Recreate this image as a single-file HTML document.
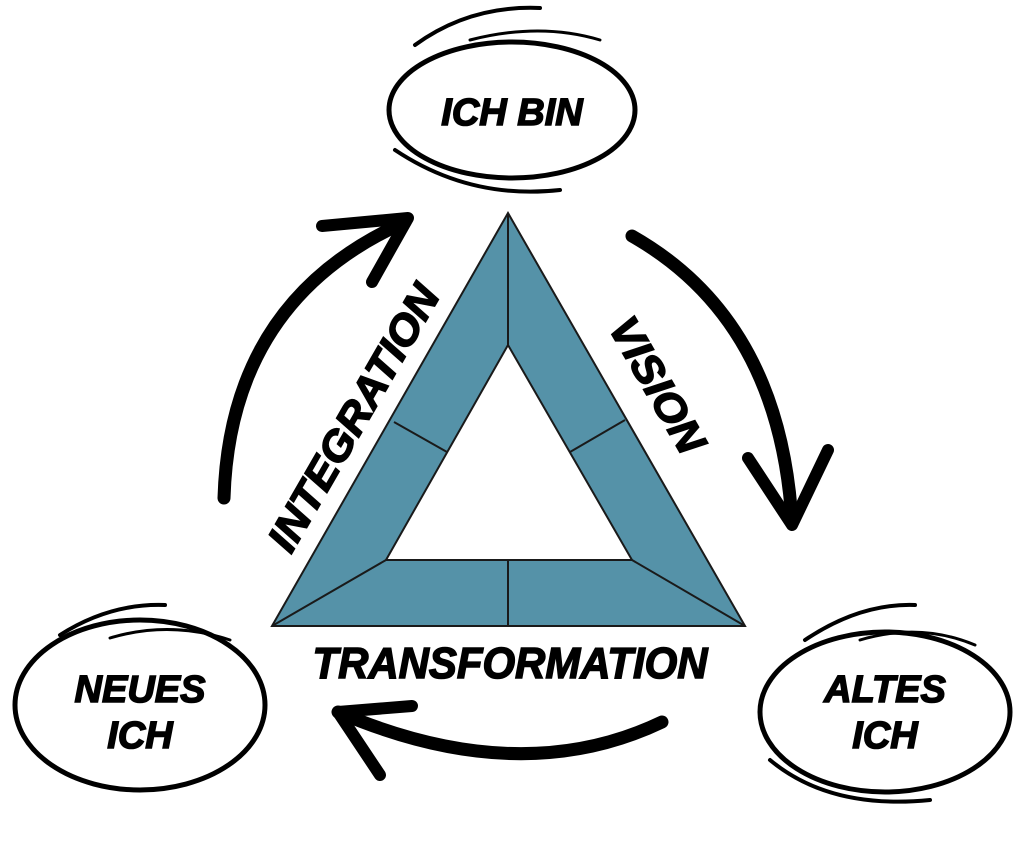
<!DOCTYPE html>
<html><head><meta charset="utf-8"><style>
html,body{margin:0;padding:0;background:#fff;}
svg{display:block}
text{font-family:"Liberation Sans",sans-serif;font-weight:bold;font-style:italic;fill:#000;stroke:#000;stroke-width:1.5;}
</style></head><body>
<svg width="1024" height="853" viewBox="0 0 1024 853" xmlns="http://www.w3.org/2000/svg">
<path d="M508,213 L745,626 L272,626 Z M508,345 L386,560 L632,560 Z" fill="#5592a8" fill-rule="evenodd" stroke="#1a1a1a" stroke-width="2"/>
<g stroke="#1a1a1a" stroke-width="2">
<line x1="508" y1="213" x2="508" y2="345"/>
<line x1="508" y1="560" x2="508" y2="626"/>
<line x1="386" y1="560" x2="272" y2="626"/>
<line x1="632" y1="560" x2="745" y2="626"/>
<line x1="394" y1="422" x2="447" y2="452"/>
<line x1="570" y1="452" x2="625" y2="420"/>
</g>
<g fill="none" stroke="#000" stroke-linecap="round">
<ellipse cx="512" cy="110" rx="123" ry="68" stroke-width="5"/>
<path d="M415,45 Q470,5 540,8" stroke-width="4"/>
<path d="M470,40 Q540,22 600,40" stroke-width="3"/>
<path d="M395,150 Q470,200 560,190" stroke-width="4"/>
<ellipse cx="140" cy="705" rx="125" ry="85" stroke-width="5"/>
<path d="M60,635 Q110,603 165,605" stroke-width="4"/>
<path d="M110,638 Q170,620 230,640" stroke-width="3"/>
<ellipse cx="885" cy="712" rx="125" ry="80" stroke-width="5"/>
<path d="M805,640 Q860,603 915,605" stroke-width="4"/>
<path d="M860,640 Q920,622 975,645" stroke-width="3"/>
<path d="M770,760 Q830,810 930,800" stroke-width="4"/>
</g>
<g fill="none" stroke="#000" stroke-linecap="round" stroke-linejoin="round">
<path d="M224,498 Q230,300 405,222" stroke-width="13"/>
<path d="M322,226 L408,218 L372,282" stroke-width="12"/>
<path d="M632,236 Q780,320 792,522" stroke-width="13"/>
<path d="M748,458 L792,525 L828,450" stroke-width="12"/>
<path d="M662,722 Q520,790 338,712" stroke-width="13"/>
<path d="M412,706 L338,712 L380,775" stroke-width="12"/>
</g>
<text x="512" y="125" font-size="38" text-anchor="middle">ICH BIN</text>
<text x="140" y="702" font-size="38" text-anchor="middle">NEUES</text>
<text x="140" y="748" font-size="38" text-anchor="middle">ICH</text>
<text x="885" y="702" font-size="38" text-anchor="middle">ALTES</text>
<text x="885" y="748" font-size="38" text-anchor="middle">ICH</text>
<text x="510" y="678" font-size="44" text-anchor="middle" textLength="395" lengthAdjust="spacingAndGlyphs">TRANSFORMATION</text>
<text transform="translate(366,425) rotate(-60)" font-size="42" text-anchor="middle" textLength="300" lengthAdjust="spacingAndGlyphs">INTEGRATION</text>
<text transform="translate(645,392) rotate(60)" font-size="42" text-anchor="middle" textLength="150" lengthAdjust="spacingAndGlyphs">VISION</text>
</svg>
</body></html>
